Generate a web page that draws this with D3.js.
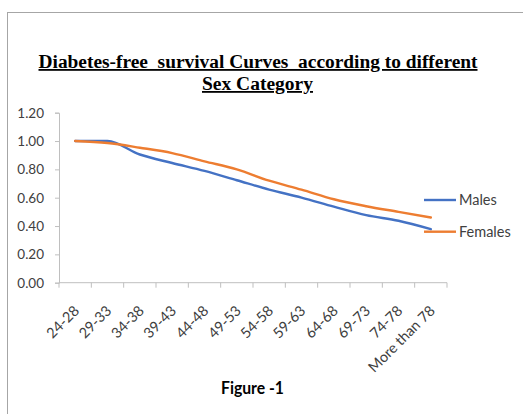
<!DOCTYPE html>
<html><head><meta charset="utf-8">
<script src="https://cdn.jsdelivr.net/npm/d3@7"></script>
<style>body{margin:0;background:#fff;}svg{display:block;}</style>
</head><body>
<svg id="chart" width="523" height="414"></svg>
<script>
const categories = ["24-28","29-33","34-38","39-43","44-48","49-53","54-58","59-63","64-68","69-73","74-78","More than 78"];
const males   = [1.00,1.00,0.905,0.845,0.789,0.723,0.657,0.601,0.537,0.477,0.437,0.378];
const females = [1.00,0.986,0.953,0.915,0.857,0.80,0.72,0.657,0.589,0.54,0.50,0.46];
const yTicks = [0,0.2,0.4,0.6,0.8,1.0,1.2];
const seriesNames = ["Males","Females"];
const colors = ["#4472C4","#ED7D31"];

(function(){
const svg = d3.select("#chart");
const sansFont = "Lato, 'Open Sans', sans-serif";

svg.append("rect").attr("x",7.5).attr("y",12.5).attr("width",530).attr("height",420)
  .attr("fill","#fff").attr("stroke","#a6a6a6").attr("stroke-width",1);

const pLeft = 59, pRight = 447, pTop = 112.7, pBottom = 282.7;
const x = d3.scaleBand().domain(categories).range([pLeft,pRight]);
const y = d3.scaleLinear().domain([0,1.2]).range([pBottom,pTop]);

// title
const title = svg.append("g").attr("font-family","'Liberation Serif','Times New Roman',serif")
  .attr("font-weight","bold").attr("font-size",18).attr("fill","#000");
title.append("text").attr("x",258).attr("y",68).attr("text-anchor","middle")
  .attr("text-decoration","underline").attr("xml:space","preserve")
  .attr("textLength",439).attr("lengthAdjust","spacingAndGlyphs")
  .text("Diabetes-free  survival Curves  according to different");
title.append("text").attr("x",257.5).attr("y",90).attr("text-anchor","middle")
  .attr("text-decoration","underline")
  .attr("textLength",111).attr("lengthAdjust","spacingAndGlyphs")
  .text("Sex Category");

// y axis
const yAxis = d3.axisLeft(y).tickValues(yTicks).tickFormat(d3.format(".2f")).tickSize(4).tickPadding(11);
const gy = svg.append("g").attr("transform",`translate(${pLeft},0)`).call(yAxis);
gy.selectAll("path,line").attr("stroke","#bfbfbf");
gy.selectAll("text").attr("font-family",sansFont).attr("font-size",13.5).attr("fill","#404040");

// x axis
const gx = svg.append("g").attr("transform",`translate(0,${pBottom})`);
gx.append("line").attr("x1",pLeft).attr("x2",pRight).attr("stroke","#bfbfbf");
const edges = categories.map(c=>x(c)).concat([pRight]);
gx.selectAll("line.tick").data(edges).join("line").attr("class","tick")
  .attr("x1",d=>d).attr("x2",d=>d).attr("y1",0).attr("y2",5).attr("stroke","#bfbfbf");
gx.selectAll("text").data(categories).join("text")
  .attr("transform",d=>`translate(${x(d)+x.bandwidth()/2+5},${29}) rotate(-45)`)
  .attr("text-anchor","end").attr("font-family",sansFont).attr("font-size",14.5).attr("fill","#404040")
  .text(d=>d);

// lines
const line = d3.line().x((d,i)=>x(categories[i])+x.bandwidth()/2).y(d=>y(d)).curve(d3.curveMonotoneX);
[males,females].forEach((s,i)=>{
  svg.append("path").datum(s).attr("d",line).attr("fill","none")
    .attr("stroke",colors[i]).attr("stroke-width",2.4).attr("stroke-linecap","round");
});

// legend
const legendY = [200,231.7];
seriesNames.forEach((n,i)=>{
  svg.append("line").attr("x1",424).attr("x2",456).attr("y1",legendY[i]).attr("y2",legendY[i])
    .attr("stroke",colors[i]).attr("stroke-width",2.4);
  svg.append("text").attr("x",459).attr("y",legendY[i]+5).attr("font-family",sansFont)
    .attr("font-size",14.5).attr("fill","#404040").text(n);
});

// figure caption
svg.append("text").attr("x",252.5).attr("y",393.5).attr("text-anchor","middle")
  .attr("font-family",sansFont).attr("font-weight","bold").attr("font-size",16.5).attr("fill","#000")
  .attr("textLength",63).attr("lengthAdjust","spacingAndGlyphs")
  .text("Figure -1");
})();
</script>
</body></html>
